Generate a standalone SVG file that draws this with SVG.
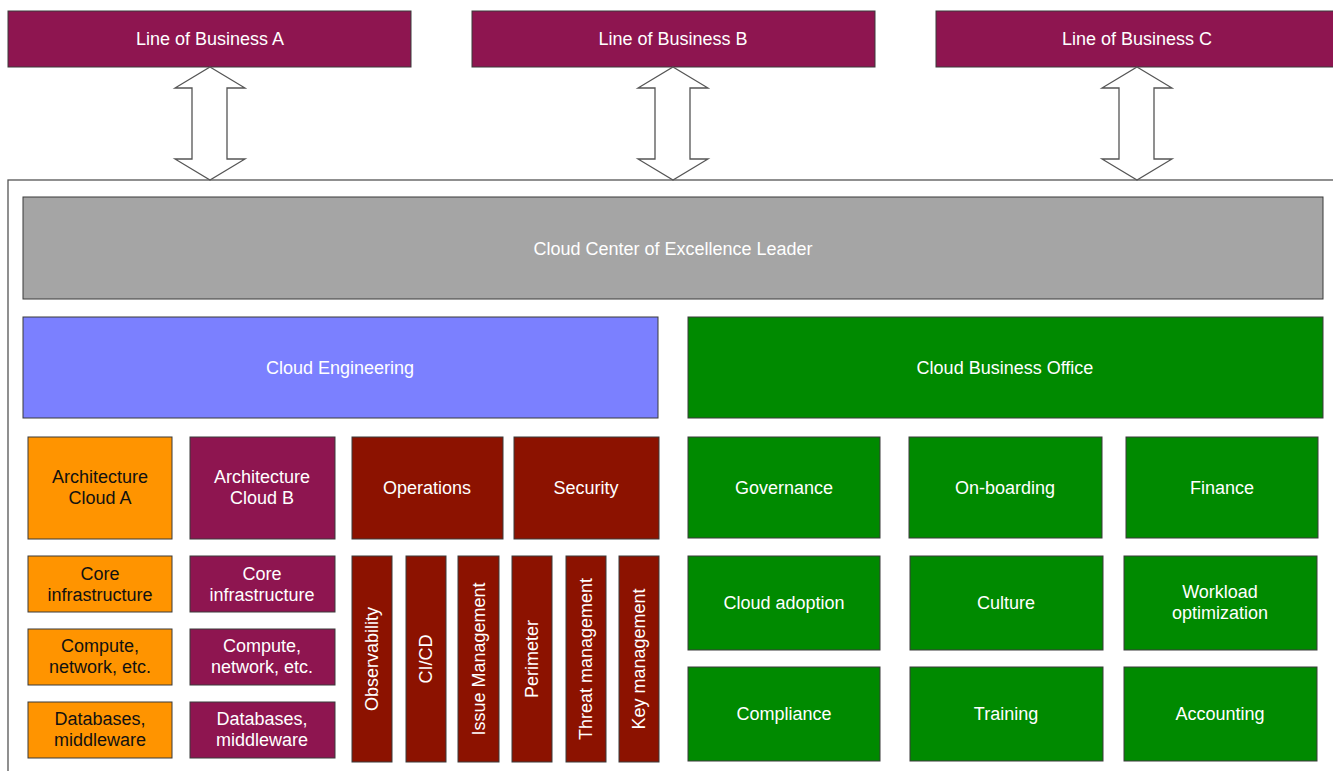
<svg xmlns="http://www.w3.org/2000/svg" width="1333" height="771" viewBox="0 0 1333 771">
<style>
text{font-family:"Liberation Sans",Arial,sans-serif;font-size:18px;text-anchor:middle;fill:#fff}
.b{stroke:#3a3a3a;stroke-width:1}
.maroon{fill:#8e1550}.red{fill:#8c1200}.orange{fill:#ff9400}.green{fill:#008a00}.blue{fill:#7b80ff}.gray{fill:#a5a5a5}
.dk{fill:#111}
.arrow{fill:#fff;stroke:#555;stroke-width:1.3}
</style>
<rect width="1333" height="771" fill="#fff"/>
<g id="container"><rect x="8" y="180" width="1340" height="600" fill="#fff" stroke="#555" stroke-width="1.3"/></g>
<g id="lobA"><rect class="b maroon" x="8" y="11" width="403" height="56"/><text x="210" y="45">Line of Business A</text></g>
<g id="lobB"><rect class="b maroon" x="472" y="11" width="403" height="56"/><text x="673" y="45">Line of Business B</text></g>
<g id="lobC"><rect class="b maroon" x="936" y="11" width="410" height="56"/><text x="1137" y="45">Line of Business C</text></g>
<g id="connectors">
<polygon class="arrow" points="210,67 245,88 227,88 227,159 245,159 210,180 175,159 192,159 192,88 175,88"/>
<polygon class="arrow" points="673,67 708,88 690,88 690,159 708,159 673,180 638,159 655,159 655,88 638,88"/>
<polygon class="arrow" points="1137,67 1172,88 1154,88 1154,159 1172,159 1137,180 1102,159 1119,159 1119,88 1102,88"/>
</g>
<g id="ccoe"><rect class="b gray" x="23" y="197" width="1300" height="102"/><text x="673" y="255">Cloud Center of Excellence Leader</text></g>
<g id="eng"><rect class="b blue" x="23" y="317" width="635" height="101"/><text x="340" y="374">Cloud Engineering</text></g>
<g id="cbo"><rect class="b green" x="688" y="317" width="635" height="101"/><text x="1005" y="374">Cloud Business Office</text></g>
<g id="archA"><rect class="b orange" x="28" y="437" width="144" height="102"/><text class="dk" x="100" y="483">Architecture</text><text class="dk" x="100" y="504">Cloud A</text></g>
<g id="archB"><rect class="b maroon" x="190" y="437" width="145" height="102"/><text x="262" y="483">Architecture</text><text x="262" y="504">Cloud B</text></g>
<g id="coreA"><rect class="b orange" x="28" y="556" width="144" height="56"/><text class="dk" x="100" y="580">Core</text><text class="dk" x="100" y="601">infrastructure</text></g>
<g id="coreB"><rect class="b maroon" x="190" y="556" width="145" height="56"/><text x="262" y="580">Core</text><text x="262" y="601">infrastructure</text></g>
<g id="compA"><rect class="b orange" x="28" y="629" width="144" height="56"/><text class="dk" x="100" y="652">Compute,</text><text class="dk" x="100" y="673">network, etc.</text></g>
<g id="compB"><rect class="b maroon" x="190" y="629" width="145" height="56"/><text x="262" y="652">Compute,</text><text x="262" y="673">network, etc.</text></g>
<g id="dbA"><rect class="b orange" x="28" y="702" width="144" height="56"/><text class="dk" x="100" y="725">Databases,</text><text class="dk" x="100" y="746">middleware</text></g>
<g id="dbB"><rect class="b maroon" x="190" y="702" width="145" height="56"/><text x="262" y="725">Databases,</text><text x="262" y="746">middleware</text></g>
<g id="ops"><rect class="b red" x="352" y="437" width="151" height="102"/><text x="427" y="494">Operations</text></g>
<g id="sec"><rect class="b red" x="514" y="437" width="145" height="102"/><text x="586" y="494">Security</text></g>
<g id="obs"><rect class="b red" x="352" y="556" width="40" height="206"/><text transform="translate(378,659) rotate(-90)">Observability</text></g>
<g id="cicd"><rect class="b red" x="406" y="556" width="40" height="206"/><text transform="translate(432,659) rotate(-90)">CI/CD</text></g>
<g id="issue"><rect class="b red" x="458" y="556" width="41" height="206"/><text transform="translate(485,659) rotate(-90)">Issue Management</text></g>
<g id="perim"><rect class="b red" x="512" y="556" width="40" height="206"/><text transform="translate(538,659) rotate(-90)">Perimeter</text></g>
<g id="threat"><rect class="b red" x="566" y="556" width="40" height="206"/><text transform="translate(592,659) rotate(-90)">Threat management</text></g>
<g id="key"><rect class="b red" x="619" y="556" width="40" height="206"/><text transform="translate(645,659) rotate(-90)">Key management</text></g>
<g id="gov"><rect class="b green" x="688" y="437" width="192" height="101"/><text x="784" y="494">Governance</text></g>
<g id="onb"><rect class="b green" x="909" y="437" width="193" height="101"/><text x="1005" y="494">On-boarding</text></g>
<g id="fin"><rect class="b green" x="1126" y="437" width="192" height="101"/><text x="1222" y="494">Finance</text></g>
<g id="adopt"><rect class="b green" x="688" y="556" width="192" height="94"/><text x="784" y="609">Cloud adoption</text></g>
<g id="culture"><rect class="b green" x="910" y="556" width="193" height="94"/><text x="1006" y="609">Culture</text></g>
<g id="workload"><rect class="b green" x="1124" y="556" width="193" height="94"/><text x="1220" y="598">Workload</text><text x="1220" y="619">optimization</text></g>
<g id="compl"><rect class="b green" x="688" y="667" width="192" height="94"/><text x="784" y="720">Compliance</text></g>
<g id="train"><rect class="b green" x="910" y="667" width="193" height="94"/><text x="1006" y="720">Training</text></g>
<g id="acct"><rect class="b green" x="1124" y="667" width="193" height="94"/><text x="1220" y="720">Accounting</text></g>
</svg>
